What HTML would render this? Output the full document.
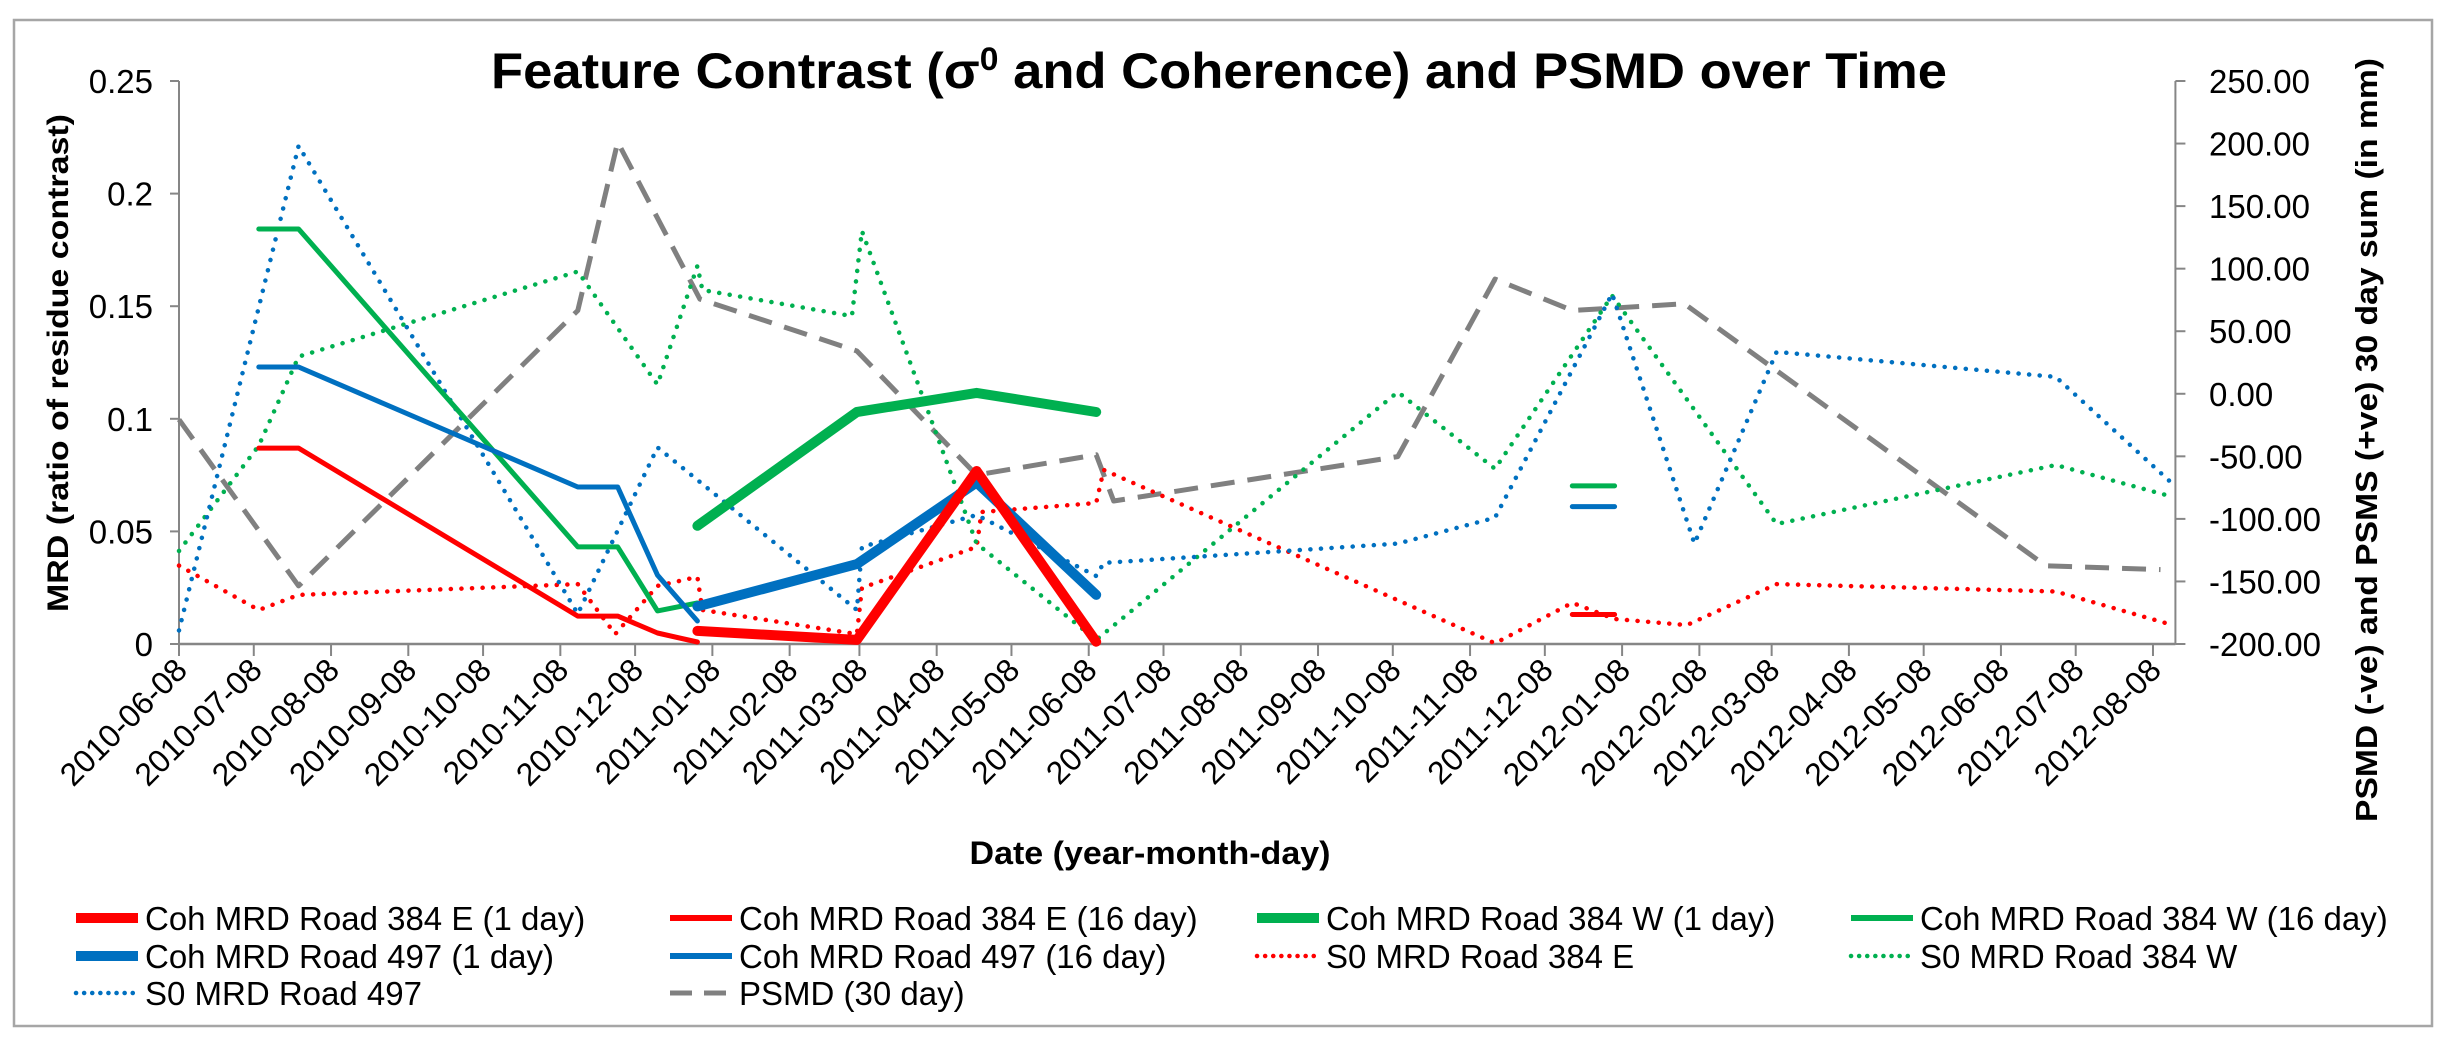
<!DOCTYPE html>
<html><head><meta charset="utf-8"><title>Feature Contrast and PSMD over Time</title>
<style>
html,body{margin:0;padding:0;background:#fff;}
svg{display:block;font-family:"Liberation Sans",Arial,sans-serif;}
</style></head>
<body>
<svg id="chart" width="2444" height="1041" viewBox="0 0 2444 1041" xmlns="http://www.w3.org/2000/svg">
<rect x="0" y="0" width="2444" height="1041" fill="#fff"/>
<rect x="14" y="20" width="2418" height="1006" fill="none" stroke="#a6a6a6" stroke-width="2.5"/>
<text x="1219" y="88" text-anchor="middle" font-size="50" font-weight="bold" textLength="1456" lengthAdjust="spacingAndGlyphs">Feature Contrast (σ<tspan baseline-shift="super" font-size="32">0</tspan> and Coherence) and PSMD over Time</text>
<text transform="translate(68,363) rotate(-90)" text-anchor="middle" font-size="30" font-weight="bold" textLength="498" lengthAdjust="spacingAndGlyphs">MRD (ratio of residue contrast)</text>
<text transform="translate(2377,440) rotate(-90)" text-anchor="middle" font-size="31" font-weight="bold" textLength="764" lengthAdjust="spacingAndGlyphs">PSMD (-ve) and PSMS (+ve) 30 day sum (in mm)</text>
<text x="1150" y="864" text-anchor="middle" font-size="32" font-weight="bold" textLength="361" lengthAdjust="spacingAndGlyphs">Date (year-month-day)</text>
<g id="axes"></g>
<g id="series"></g>
<g id="legend"></g>
</svg>
<script>
// ---- data ----
const xTickLabels = ["2010-06-08","2010-07-08","2010-08-08","2010-09-08","2010-10-08","2010-11-08","2010-12-08","2011-01-08","2011-02-08","2011-03-08","2011-04-08","2011-05-08","2011-06-08","2011-07-08","2011-08-08","2011-09-08","2011-10-08","2011-11-08","2011-12-08","2012-01-08","2012-02-08","2012-03-08","2012-04-08","2012-05-08","2012-06-08","2012-07-08","2012-08-08"];
const leftTicks = [0,0.05,0.1,0.15,0.2,0.25];
const leftTickLabels = ["0","0.05","0.1","0.15","0.2","0.25"];
const rightTicks = [-200,-150,-100,-50,0,50,100,150,200,250];
const rightTickLabels = ["-200.00","-150.00","-100.00","-50.00","0.00","50.00","100.00","150.00","200.00","250.00"];

const coh16Dates = ["2010-07-10","2010-07-26","2010-11-15","2010-12-01","2010-12-17","2011-01-02",null,"2011-12-19","2012-01-05"];
const cohE16 = [0.087,0.087,0.0124,0.0124,0.0049,0.0009,null,0.0131,0.0131];
const cohW16 = [0.1843,0.1843,0.0431,0.0431,0.0147,0.0182,null,0.0702,0.0702];
const coh497_16 = [0.123,0.123,0.0697,0.0697,0.0306,0.0102,null,0.061,0.061];

const coh1Dates = ["2011-01-02","2011-03-07","2011-04-24","2011-06-11"];
const cohE1 = [0.0058,0.0018,0.0768,0.001];
const cohW1 = [0.0525,0.103,0.1115,0.103];
const coh497_1 = [0.0167,0.0355,0.0717,0.0218];

const s0_497Dates = ["2010-06-08","2010-07-26","2010-11-15","2010-12-17","2011-03-07","2011-03-09","2011-04-24","2011-06-11","2011-06-14","2011-10-10","2011-11-18","2012-01-04","2012-02-06","2012-03-10","2012-06-30","2012-08-16"];
const s0_497 = [0.006,0.2212,0.0134,0.0873,0.0151,0.0431,0.0573,0.0302,0.036,0.0446,0.0561,0.1555,0.0446,0.1297,0.1186,0.071];

const s0WDates = ["2010-06-08","2010-07-10","2010-07-26","2010-11-15","2010-12-17","2011-01-02","2011-01-04","2011-03-05","2011-03-09","2011-04-24","2011-06-11","2011-10-10","2011-11-18","2012-01-04","2012-03-10","2012-06-30","2012-08-16"];
const s0W = [0.0413,0.0881,0.1276,0.1654,0.1152,0.1679,0.1572,0.1456,0.1834,0.0446,0.0018,0.1119,0.0778,0.1547,0.0533,0.0795,0.0653];

const s0EDates = ["2010-06-08","2010-07-10","2010-07-26","2010-11-15","2010-11-30","2010-12-17","2011-01-02","2011-01-04","2011-03-07","2011-03-09","2011-04-24","2011-04-26","2011-06-11","2011-06-14","2011-11-18","2011-12-19","2012-01-05","2012-02-03","2012-03-10","2012-06-30","2012-08-16"];
const s0E = [0.0348,0.0151,0.0218,0.0266,0.0044,0.0258,0.0298,0.0151,0.0044,0.0249,0.0431,0.0586,0.0626,0.0773,0.0003,0.0183,0.0111,0.0084,0.0266,0.0233,0.0084];

const psmdDates = ["2010-06-08","2010-07-26","2010-11-15","2010-12-01","2011-01-03","2011-03-07","2011-04-24","2011-06-11","2011-06-18","2011-10-10","2011-11-18","2011-12-19","2012-02-02","2012-06-26","2012-08-11"];
const psmd = [-20.6,-153.6,66.6,201.2,75.7,34.2,-64.9,-48.8,-85.7,-50.2,91.7,66.6,71.9,-137.5,-140.5];

// ---- scales ----
const NS = "http://www.w3.org/2000/svg";
const X0 = 179, PX_PER_DAY = 2.4924, YB = 644, YT = 81;
const ORIGIN = Date.UTC(2010,5,8);
function days(s){const p=s.split("-");return (Date.UTC(+p[0],+p[1]-1,+p[2])-ORIGIN)/86400000;}
function xS(s){return X0 + days(s)*PX_PER_DAY;}
function yL(v){return YB - v/0.25*(YB-YT);}
function yR(v){return YB - (v+200)/450*(YB-YT);}
const XEND = xS("2012-08-17");

function mk(tag, attrs, parent){const e=document.createElementNS(NS,tag);for(const k in attrs)e.setAttribute(k,attrs[k]);parent.appendChild(e);return e;}

const axes = document.getElementById("axes");
const AX = "#868686";
// axis lines
let el;
el = mk("line",{x1:X0,y1:YT,x2:X0,y2:YB,stroke:AX,"stroke-width":2},axes);


el = mk("line",{x1:XEND,y1:YT,x2:XEND,y2:YB,stroke:AX,"stroke-width":2},axes);


el = mk("line",{x1:X0,y1:YB,x2:XEND,y2:YB,stroke:AX,"stroke-width":2.5},axes);



leftTicks.forEach((v,i)=>{
  const y=yL(v);
  const t=mk("line",{x1:X0-9,y1:y,x2:X0,y2:y,stroke:AX,"stroke-width":2},axes);
  
  
  const l=mk("text",{x:153,y:y+12,"text-anchor":"end","font-size":33},axes);
  l.textContent=leftTickLabels[i];
  
  
});
rightTicks.forEach((v,i)=>{
  const y=yR(v);
  const t=mk("line",{x1:XEND,y1:y,x2:XEND+10,y2:y,stroke:AX,"stroke-width":2},axes);
  
  
  const l=mk("text",{x:2209,y:y+12,"text-anchor":"start","font-size":33},axes);
  l.textContent=rightTickLabels[i];
  
  
});
xTickLabels.forEach(s=>{
  const x=xS(s);
  const t=mk("line",{x1:x,y1:YB,x2:x,y2:YB+12,stroke:AX,"stroke-width":2},axes);
  
  
  const l=mk("text",{transform:`translate(${x+10},${672}) rotate(-45)`,"text-anchor":"end","font-size":32},axes);
  l.textContent=s;
  
  
});

// ---- series ----
const series = document.getElementById("series");
function pathFrom(dates, vals, yf){
  let d="", pen=false;
  for(let i=0;i<vals.length;i++){
    if(vals[i]===null||dates[i]===null){pen=false;continue;}
    d += (pen?"L":"M") + xS(dates[i]).toFixed(1)+","+yf(vals[i]).toFixed(1)+" ";
    pen=true;
  }
  return d;
}
const RED="#ff0000", GREEN="#00b050", BLUE="#0070c0", GRAY="#808080";
function draw(name, dates, vals, yf, color, w, dash){
  const a={d:pathFrom(dates,vals,yf),fill:"none",stroke:color,"stroke-width":w,"stroke-linejoin":"round","stroke-linecap":"round"};
  if(dash){a["stroke-dasharray"]=dash; if(dash.startsWith("0"))a["stroke-linecap"]="round"; else a["stroke-linecap"]="butt";}
  const p=mk("path",a,series);
  
  
}
const DOT="0.1 10.5", DASH="24 13";
draw('psmd-30-day-line', psmdDates, psmd, yR, GRAY, 5, DASH);
draw('s0-road-384e-line', s0EDates, s0E, yL, RED, 4.5, DOT);
draw('s0-road-384w-line', s0WDates, s0W, yL, GREEN, 4.5, DOT);
draw('s0-road-497-line', s0_497Dates, s0_497, yL, BLUE, 4.5, DOT);
draw('coh-384w-16day-line', coh16Dates, cohW16, yL, GREEN, 5, null);
draw('coh-497-16day-line', coh16Dates, coh497_16, yL, BLUE, 5, null);
draw('coh-384e-16day-line', coh16Dates, cohE16, yL, RED, 5, null);
draw('coh-384w-1day-line', coh1Dates, cohW1, yL, GREEN, 10, null);
draw('coh-497-1day-line', coh1Dates, coh497_1, yL, BLUE, 10, null);
draw('coh-384e-1day-line', coh1Dates, cohE1, yL, RED, 10, null);

// ---- legend ----
const legend = document.getElementById("legend");
const legendLabels = ["Coh MRD Road 384 E (1 day)","Coh MRD Road 384 E (16 day)","Coh MRD Road 384 W (1 day)","Coh MRD Road 384 W (16 day)","Coh MRD Road 497 (1 day)","Coh MRD Road 497 (16 day)","S0 MRD Road 384 E","S0 MRD Road 384 W","S0 MRD Road 497","PSMD (30 day)"];
const legendColors = [RED,RED,GREEN,GREEN,BLUE,BLUE,RED,GREEN,BLUE,GRAY];
const legendWidths = [10,6,10,6,10,6,4.5,4.5,4.5,5];
const legendDash = [null,null,null,null,null,null,"0.1 8","0.1 8","0.1 8","22 12"];
const colX = [74,668,1255,1849];
const rowY = [918,956,993];
legendLabels.forEach((lab,i)=>{
  const cx=colX[i%4], cy=rowY[Math.floor(i/4)];
  const a={x1:cx+2,y1:cy,x2:cx+64,y2:cy,stroke:legendColors[i],"stroke-width":legendWidths[i]};
  if(legendDash[i]){a["stroke-dasharray"]=legendDash[i];a["stroke-linecap"]=legendDash[i].startsWith("0")?"round":"butt";}
  const s=mk("line",a,legend);
  
  
  const t=mk("text",{x:cx+71,y:cy+12,"font-size":33},legend);
  t.textContent=lab;
  
  
});
</script>
</body></html>
